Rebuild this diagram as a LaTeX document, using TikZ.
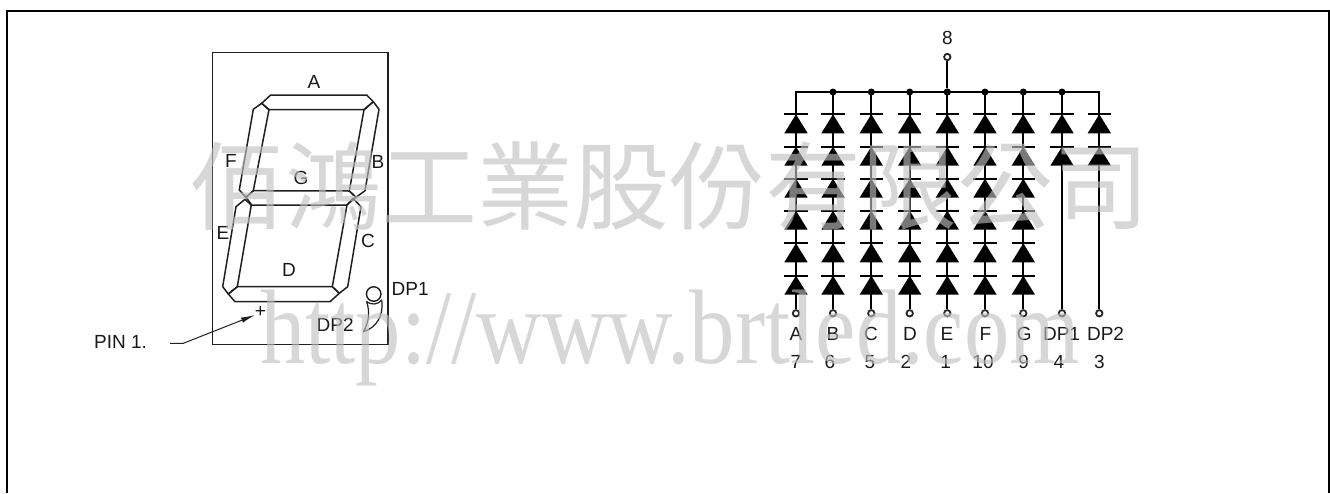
\documentclass[tikz,border=0pt]{standalone}
\usepackage{fontspec}
\setmainfont{Liberation Sans}
\newfontfamily\wmserif[FakeStretch=0.855]{Liberation Serif}
\newfontfamily\wmcjk{Noto Sans CJK TC}
\usetikzlibrary{arrows.meta}
\tikzset{
  x=1pt,y=-1pt,
  lbl/.style={inner sep=0pt,font=\fontsize{19}{22}\selectfont,text=black!90},
  seg/.style={draw=black!88,line width=1.5pt,line join=round},
  bar/.style={draw=black,line width=2pt},
  wire/.style={draw=black,line width=2pt},
  term/.style={circle,draw=black!85,fill=white,line width=1.8pt,minimum size=6.4pt,inner sep=0pt},
  junc/.style={circle,fill=black,minimum size=7pt,inner sep=0pt},
  wmark/.style={inner sep=0pt,text=black!25,text opacity=.63},
  pics/diode/.style={code={
    \fill[black] (0,0) -- (-11.7,19) -- (11.7,19) -- cycle;
    \draw[bar] (-11.7,0) -- (11.7,0);
  }}
}
\begin{document}
\begin{tikzpicture}
\useasboundingbox (0,0) rectangle (1330,493);
\draw[black,line width=2pt] (6.5,493) -- (6.5,10.5) -- (1329,10.5) -- (1329,493);
% package
\draw[draw=black!88,line width=1.5pt] (212.7,52.3) rectangle (388,344.3);
\draw[seg] (270.7,95) -- (366.7,95) -- (373.3,101.7) -- (364,109.7) -- (269,109.7) -- (261.7,103.3) -- cycle;
\draw[seg] (373.3,101.7) -- (379,109.3) -- (365,190.7) -- (356,197.3) -- (349.3,191) -- (364,109.7) -- cycle;
\draw[seg] (261.7,103.3) -- (269,109.7) -- (253.3,190.7) -- (246,197.3) -- (239.3,190) -- (253.3,109.3) -- cycle;
\draw[seg] (246,197.3) -- (253.3,190.7) -- (349.3,191) -- (356,197.3) -- (346.7,205) -- (251.7,205) -- cycle;
\draw[seg] (245,199.3) -- (251.3,205) -- (237.3,286.7) -- (228.3,294) -- (222.7,286.7) -- (236,206.7) -- cycle;
\draw[seg] (353,198.3) -- (361,206.7) -- (347.7,286.7) -- (339.3,293.3) -- (332.3,286.7) -- (347,205) -- cycle;
\draw[seg] (237.3,286.7) -- (332.3,286.7) -- (339.3,293.3) -- (330,301.7) -- (235,301.7) -- (228.3,294) -- cycle;
\node[circle,draw=black!88,line width=1.4pt,minimum size=14.5pt,inner sep=0pt] (dpa) at (373.7,294) {};
\draw[seg,line width=1.2pt] (366.7,301.7) .. controls (370,312) and (369,322) .. (363.3,331.7) .. controls (376,328) and (384,316) .. (381.7,300) .. controls (378,305) and (371,305) .. cycle;
\node[lbl] (la) at (314,81.5) {A};
\node[lbl] (lf) at (231,161) {F};
\node[lbl] (lb) at (378,162) {B};
\node[lbl] (lg) at (301,177.5) {G};
\node[lbl] (le) at (223,233) {E};
\node[lbl] (lc) at (368,240.5) {C};
\node[lbl] (ld) at (289,270) {D};
\node[lbl,anchor=west] (ldp1) at (391.5,289.3) {DP1};
\node[lbl,anchor=west] (ldp2) at (316.5,325) {DP2};
\node[lbl] (plus) at (260.5,312.5) {+};
\node[lbl,anchor=west] (pin) at (94,342) {PIN 1.};
\coordinate (pa) at (170,343.3);
\coordinate (pb) at (183.3,343.3);
\coordinate (pc) at (255,315);
\draw[black!88,line width=1pt,-{Latex[length=14pt,width=5.5pt]}] (pa) -- (pb) -- (pc);
% schematic
\node[term] (t8) at (947.3,57) {};
\node[lbl] (l8) at (947.5,38) {8};
\node[junc] (jE) at (947.3,92) {};
\coordinate (jA) at (796,92);
\coordinate (jH) at (1099.3,92);
\draw[wire] (t8) -- (jE);
\foreach \n/\x/\lab/\num/\lx/\nx in {A/796/A/7/796/796,B/833/B/6/833/830,C/871.3/C/5/871/870,D/909.7/D/2/910/906,E/947.3/E/1/947/945.7,F/985/F/10/985.3/983,G/1023.3/G/9/1024.3/1023.7}{
  \node[term] (t\n) at (\x,313.3) {};
  \coordinate (j\n) at (\x,92);
  \draw[wire] (j\n) -- (t\n);
  \foreach \y in {114.3,146.7,178.7,210.7,243.3,275.7}{
    \pic at (\x,\y) {diode};
  }
  \node[lbl] (n\n) at (\lx,334.3) {\lab};
  \node[lbl] (m\n) at (\nx,361.7) {\num};
}
\foreach \n/\x/\lab/\num/\lx/\nx in {H/1062/DP1/4/1061.5/1059,I/1099.3/DP2/3/1105.5/1099.3}{
  \node[term] (t\n) at (\x,313.3) {};
  \coordinate (j\n) at (\x,92);
  \draw[wire] (j\n) -- (t\n);
  \foreach \y in {114.3,146.7}{
    \pic at (\x,\y) {diode};
  }
  \node[lbl] (n\n) at (\lx,334.3) {\lab};
  \node[lbl] (m\n) at (\nx,361.7) {\num};
}
\draw[wire,line join=miter] (tA) -- (jA) -- (jI) -- (tI);
\foreach \n in {B,C,D,E,F,G,H}{\node[junc] (d\n) at (j\n) {};}
% watermark
\node[wmark,font=\wmcjk\fontsize{96}{96}\selectfont] (wm1) at (669,186) {佰鴻工業股份有限公司};
\node[wmark,anchor=base,font=\wmserif\fontsize{106}{106}\selectfont] (wm2) at (670,363) {http://www.brtled.com};
\end{tikzpicture}
\end{document}
